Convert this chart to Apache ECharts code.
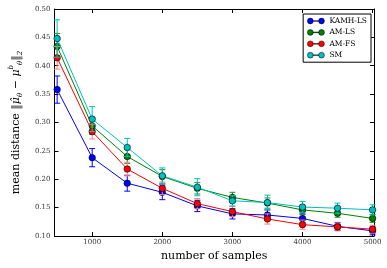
<!DOCTYPE html>
<html><head><meta charset="utf-8">
<script src="https://cdn.jsdelivr.net/npm/echarts@6/dist/echarts.min.js"></script>
<style>html,body{margin:0;padding:0;background:#fff}#c{width:387px;height:268px}</style>
</head><body><div id="c"></div>
<script>
const samples = [500,1000,1500,2000,2500,3000,3500,4000,4500,5000];
const seriesNames = ['KAMH-LS','AM-LS','AM-FS','SM'];
const colors = ['#0000ff','#008000','#ff0000','#00bfbf'];
const kamhLS = [0.358,0.238,0.193,0.177,0.153,0.139,0.137,0.131,0.117,0.109];
const amLS   = [0.434,0.294,0.240,0.205,0.184,0.168,0.158,0.146,0.140,0.131];
const amFS   = [0.414,0.284,0.218,0.184,0.157,0.143,0.130,0.120,0.116,0.112];
const sm     = [0.448,0.306,0.256,0.206,0.186,0.162,0.159,0.151,0.149,0.146];
const kamhLSErr = [0.024,0.016,0.014,0.013,0.010,0.009,0.009,0.008,0.007,0.007];
const amLSErr   = [0.023,0.015,0.012,0.012,0.010,0.009,0.009,0.008,0.007,0.007];
const amFSErr   = [0.020,0.013,0.012,0.011,0.009,0.009,0.009,0.008,0.007,0.007];
const smErr     = [0.033,0.022,0.016,0.014,0.015,0.009,0.013,0.010,0.009,0.009];
const xTicks = [1000,2000,3000,4000,5000];
const yTicks = [0.10,0.15,0.20,0.25,0.30,0.35,0.40,0.45,0.50];

const values = [kamhLS, amLS, amFS, sm];
const errs = [kamhLSErr, amLSErr, amFSErr, smErr];
const errColors = ['#0000ff','#2a8a2a','#ff8080','#00bfbf'];
const serif = '"DejaVu Serif", "Liberation Serif", serif';

const chart = echarts.init(document.getElementById('c'), null, {renderer:'canvas'});
const series = [];
values.forEach((vals, i) => {
  series.push({
    type: 'custom',
    name: seriesNames[i] + '-err',
    z: 2 + i*2,
    silent: true,
    data: samples.map((x, k) => [x, vals[k] - errs[i][k], vals[k] + errs[i][k]]),
    encode: {x: 0, y: [1, 2]},
    renderItem: function (params, api) {
      const x = api.value(0);
      const lo = api.coord([x, api.value(1)]);
      const hi = api.coord([x, api.value(2)]);
      const w = 3;
      const st = {stroke: errColors[i], lineWidth: 1};
      return {type: 'group', children: [
        {type: 'line', shape: {x1: lo[0], y1: lo[1], x2: hi[0], y2: hi[1]}, style: st},
        {type: 'line', shape: {x1: lo[0]-w, y1: lo[1], x2: lo[0]+w, y2: lo[1]}, style: st},
        {type: 'line', shape: {x1: hi[0]-w, y1: hi[1], x2: hi[0]+w, y2: hi[1]}, style: st}
      ]};
    }
  });
  series.push({
    type: 'line',
    name: seriesNames[i],
    z: 3 + i*2,
    data: samples.map((x, k) => [x, vals[k]]),
    symbol: 'circle',
    symbolSize: 6.5,
    showAllSymbol: true,
    lineStyle: {color: colors[i], width: 1},
    itemStyle: {color: colors[i], borderColor: '#000', borderWidth: 0.6},
    emphasis: {disabled: true}
  });
});

const iconPath = 'path://M0,5a5,5 0 1,0 10,0a5,5 0 1,0 -10,0Z M10,4.4L19.3,4.4L19.3,5.6L10,5.6Z M19.3,5a5,5 0 1,0 10,0a5,5 0 1,0 -10,0Z';

chart.setOption({
  animation: false,
  backgroundColor: '#fff',
  grid: {left: 45, right: 13, top: 9, bottom: 32, show: false},
  legend: {
    data: seriesNames.map(n => ({name: n, icon: iconPath})),
    orient: 'vertical',
    right: 16, top: 14,
    itemWidth: 17, itemHeight: 5.8,
    itemGap: 3.4,
    itemTextGap: 5,
    padding: [3, 4, 3, 4],
    borderColor: '#000', borderWidth: 1,
    backgroundColor: '#fff',
    borderRadius: 0,
    itemStyle: {borderColor: '#000', borderWidth: 0.5},
    textStyle: {fontFamily: serif, fontSize: 7.5, color: '#000', lineHeight: 8},
    selectedMode: false
  },
  xAxis: [{
    type: 'value', min: 462, max: 5020,
    name: 'number of samples', nameLocation: 'middle', nameGap: 13,
    nameTextStyle: {fontFamily: serif, fontSize: 11, color: '#000'},
    axisLine: {show: true, onZero: false, lineStyle: {color: '#000', width: 1}},
    axisTick: {show: true, inside: true, length: 4, customValues: xTicks, lineStyle: {color: '#000'}},
    axisLabel: {customValues: xTicks, fontFamily: serif, fontSize: 7, color: '#333', margin: 3, formatter: v => String(Math.round(v))},
    splitLine: {show: false}
  }, {
    type: 'value', min: 462, max: 5020, position: 'top',
    axisLine: {show: true, onZero: false, lineStyle: {color: '#000', width: 1}},
    axisTick: {show: true, inside: true, length: 4, customValues: xTicks, lineStyle: {color: '#000'}},
    axisLabel: {show: false},
    splitLine: {show: false}
  }],
  yAxis: [{
    type: 'value', min: 0.10, max: 0.50, interval: 0.05,
    name: '{a|mean distance }{i|‖μ̂}{s|θ}{a| − }{i|μ}{p|b}{s|θ}{i|‖}{s|2}',
    nameLocation: 'middle', nameGap: 27,
    nameTextStyle: {
      fontFamily: serif, fontSize: 11, color: '#000',
      rich: {
        a: {fontFamily: serif, fontSize: 11, lineHeight: 16, color: '#000'},
        i: {fontFamily: serif, fontSize: 11, lineHeight: 16, fontStyle: 'italic', color: '#000'},
        s: {fontFamily: serif, fontSize: 7, lineHeight: 8, verticalAlign: 'bottom', fontStyle: 'italic', color: '#000'},
        p: {fontFamily: serif, fontSize: 7, lineHeight: 8, verticalAlign: 'top', fontStyle: 'italic', color: '#000'}
      }
    },
    axisLine: {show: true, lineStyle: {color: '#000', width: 1}},
    axisTick: {show: true, inside: true, length: 4, lineStyle: {color: '#000'}},
    axisLabel: {fontFamily: serif, fontSize: 7, color: '#333', margin: 4, formatter: v => v.toFixed(2)},
    splitLine: {show: false}
  }, {
    type: 'value', min: 0.10, max: 0.50, interval: 0.05, position: 'right',
    axisLine: {show: true, lineStyle: {color: '#000', width: 1}},
    axisTick: {show: true, inside: true, length: 4, lineStyle: {color: '#000'}},
    axisLabel: {show: false},
    splitLine: {show: false}
  }],
  series: series
});
</script>
</body></html>
